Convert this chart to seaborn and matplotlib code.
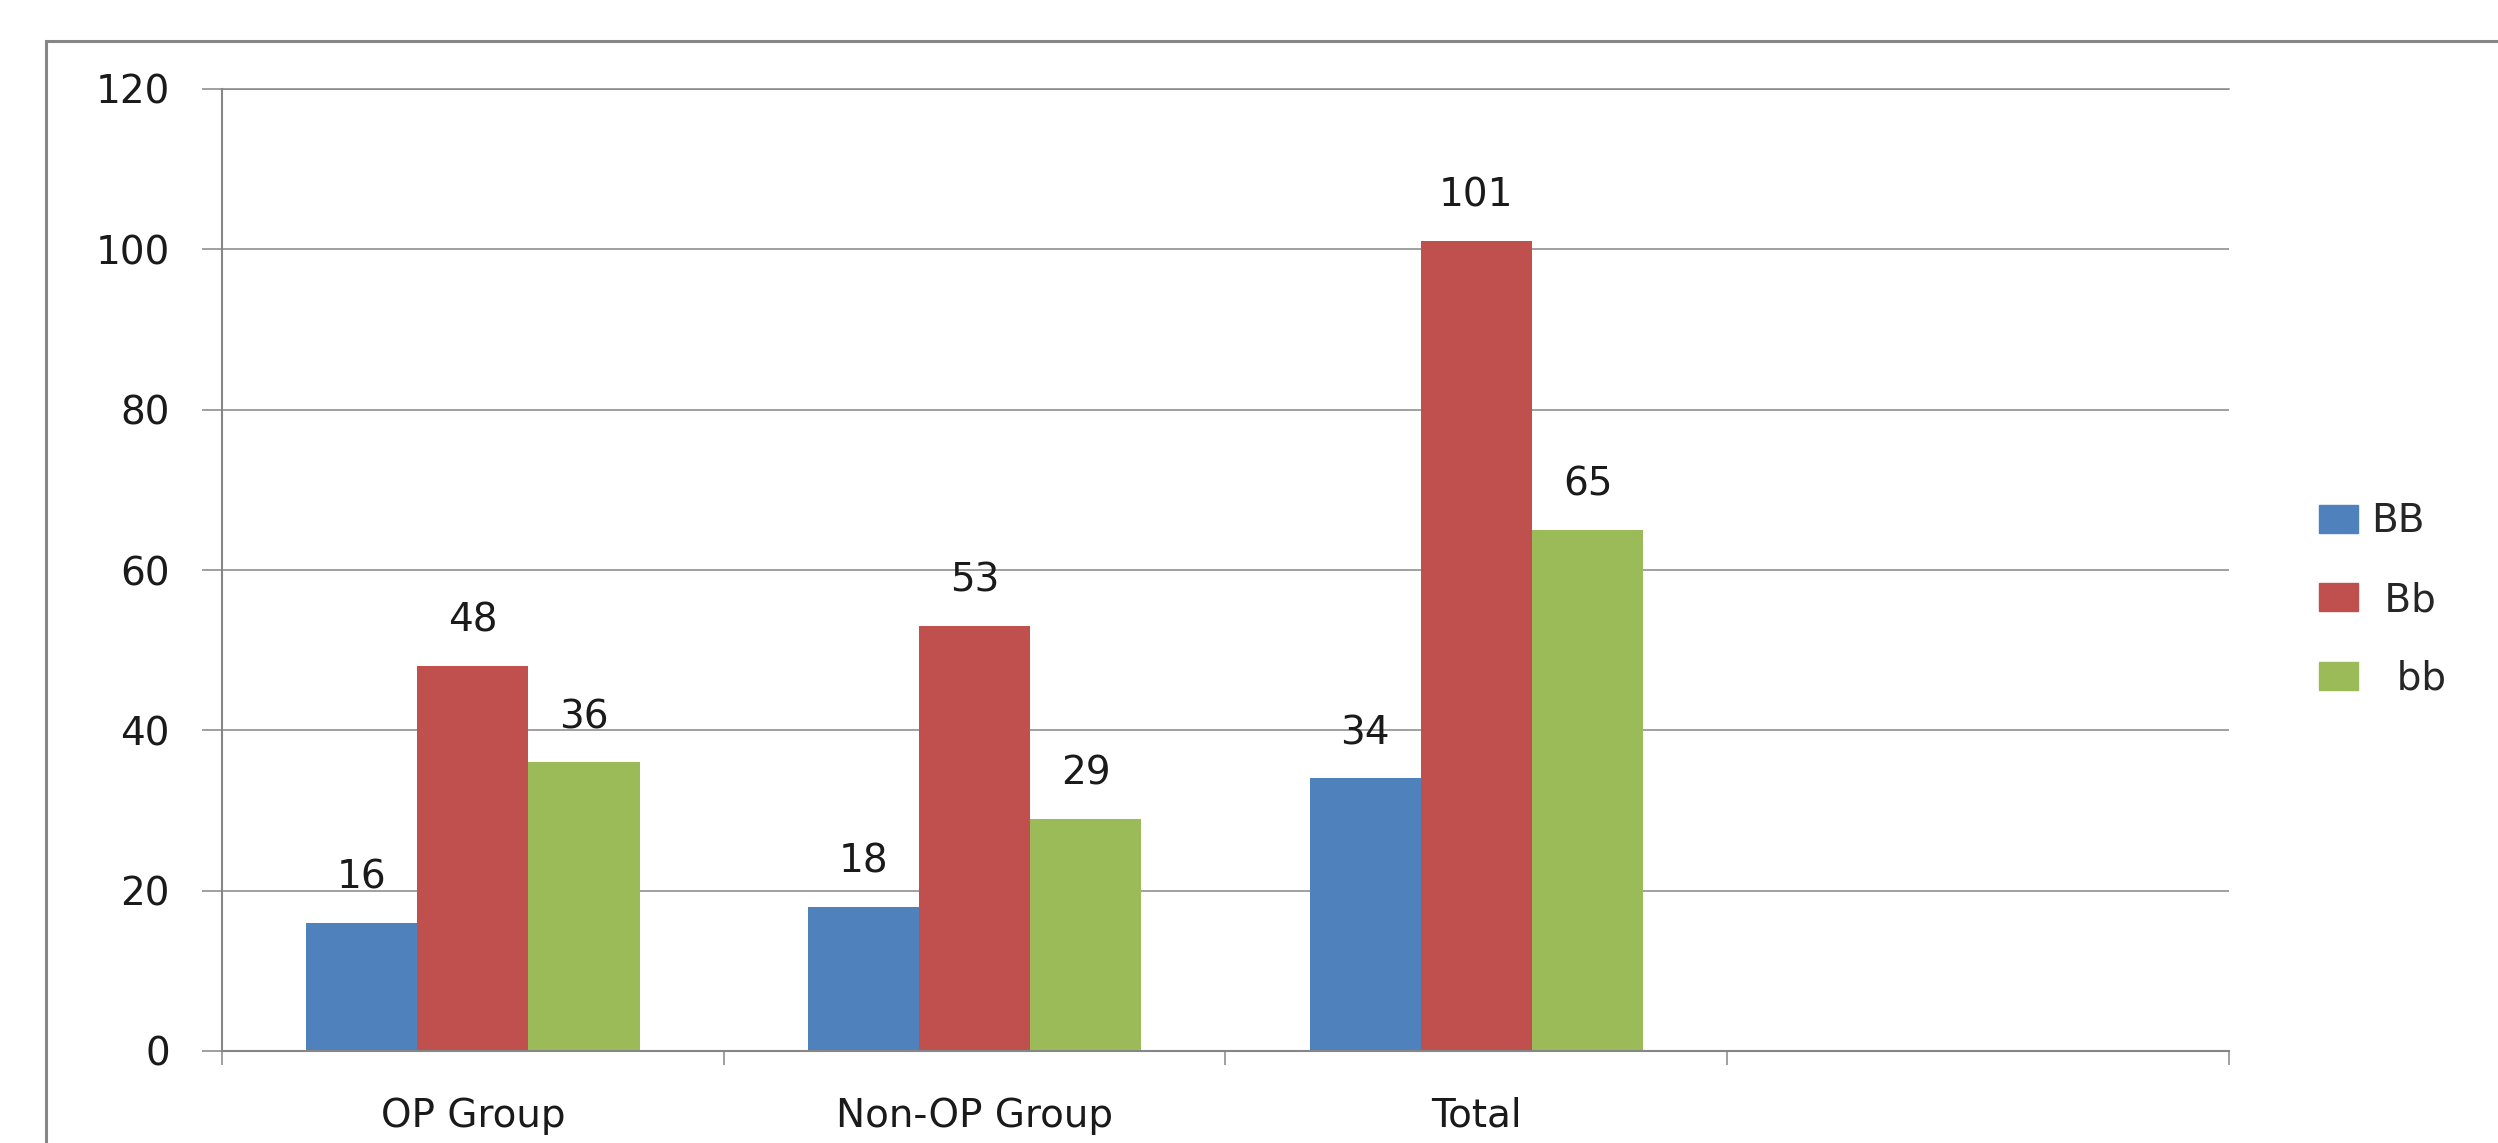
# plot.py
# Grouped bar chart: genotype counts (BB / Bb / bb) per group

import matplotlib
matplotlib.use("Agg")
import matplotlib.pyplot as plt
from matplotlib.patches import Rectangle
import seaborn as sns
import pandas as pd

# data
groups = ["OP Group", "Non-OP Group", "Total"]
genotypes = ["BB", "Bb", "bb"]
bb_upper = [16, 18, 34]
bb_het = [48, 53, 101]
bb_lower = [36, 29, 65]
yticks = [0, 20, 40, 60, 80, 100, 120]
legend_labels = ["BB", " Bb", "  bb"]
colors = ["#4F81BD", "#C0504D", "#9BBB59"]

df = pd.DataFrame({
    "group": groups * 3,
    "genotype": [g for g in genotypes for _ in groups],
    "count": bb_upper + bb_het + bb_lower,
})
order = groups + [""]   # excel chart keeps an empty fourth slot

sns.set_style("white")
plt.rcParams["font.family"] = ["DejaVu Sans"]
fs = 28
grey = "#868686"

fig = plt.figure(figsize=(24.98, 11.43), dpi=100)
ax = fig.add_axes([222 / 2498, 1 - 1051 / 1143, (2229 - 222) / 2498, (1051 - 89) / 1143])

sns.barplot(data=df, x="group", y="count", hue="genotype", order=order,
            hue_order=genotypes, palette=colors, saturation=1, width=0.665,
            errorbar=None, linewidth=0, ax=ax, legend=False)

for cont in ax.containers:
    ax.bar_label(cont, fontsize=fs, padding=19, color="#1a1a1a")

ax.set_xlim(-0.5, 3.5)
ax.set_ylim(0, 120)
ax.set_yticks(yticks)
ax.set_xticks(range(len(order)))
ax.set_xticklabels(order)
ax.set_xticks([i - 0.5 for i in range(len(order) + 1)], minor=True)
ax.set_xlabel("")
ax.set_ylabel("")
ax.yaxis.grid(True, color=grey, lw=1.1)
ax.set_axisbelow(True)

ax.spines["right"].set_visible(False)
ax.spines["top"].set_color(grey)
ax.spines["top"].set_linewidth(1.1)
for s in ["left", "bottom"]:
    ax.spines[s].set_color(grey)
    ax.spines[s].set_linewidth(1.5)

ax.tick_params(axis="y", left=True, length=14.4, width=1.1, color=grey, pad=23,
               labelsize=fs, labelcolor="#1a1a1a")
ax.tick_params(axis="x", which="major", bottom=True, length=0, pad=33,
               labelsize=fs, labelcolor="#1a1a1a")
ax.tick_params(axis="x", which="minor", bottom=True, length=10, width=1.1, color=grey)

handles = [Rectangle((0, 0), 1, 1, color=c) for c in colors]
fig.legend(handles, legend_labels, loc="center left",
           bbox_to_anchor=(2319 / 2498, 1 - 600 / 1143), frameon=False,
           fontsize=fs, handlelength=1.0, handleheight=0.73,
           handletextpad=0.35, labelspacing=1.05, borderpad=0, borderaxespad=0)

# outer chart border (right and bottom edges fall outside the image)
fig.add_artist(Rectangle((46 / 2498, -0.1), 1.2, 1 - 41 / 1143 + 0.1,
                         transform=fig.transFigure, fill=False,
                         edgecolor=grey, lw=2.2))

fig.savefig("out.png", dpi=100)
